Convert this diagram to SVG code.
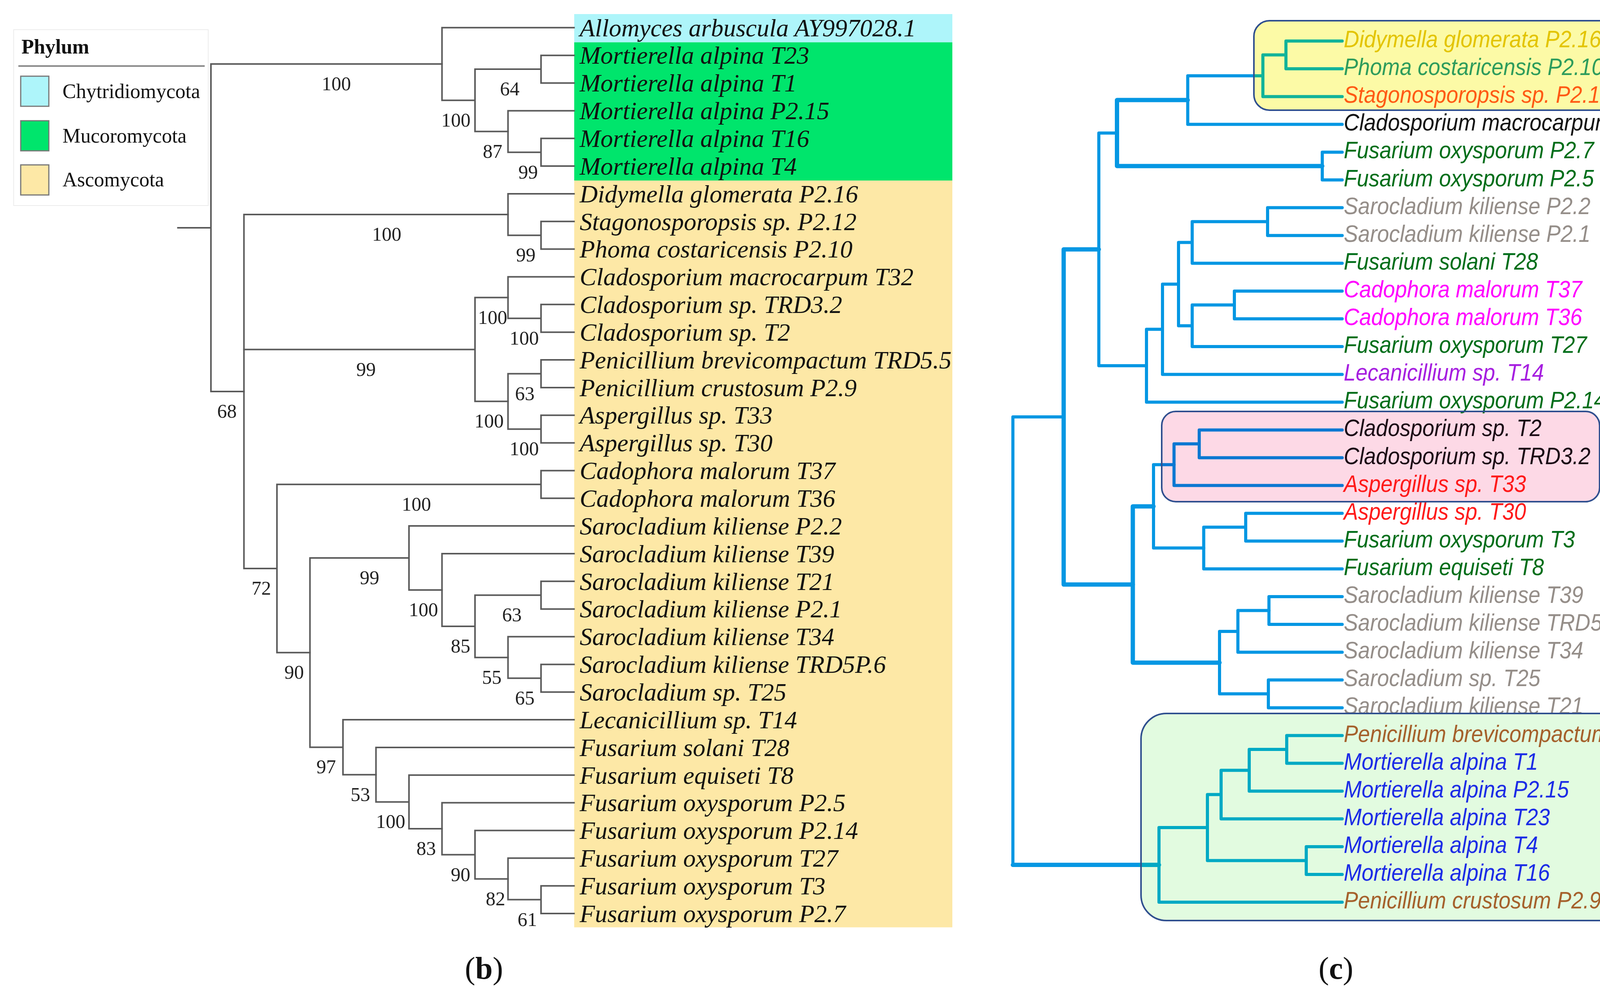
<svg xmlns="http://www.w3.org/2000/svg" width="4382" height="2544" viewBox="0 0 4382 2544">
<style>
.bl{fill:none;stroke:#5a5a5a;stroke-width:4;stroke-linecap:square}
.bt{font-family:"Liberation Serif",serif;font-style:italic;font-size:64px;fill:#111}
.bs{font-family:"Liberation Serif",serif;font-size:50px;fill:#222;text-anchor:middle}
.lg{font-family:"Liberation Serif",serif;font-size:52px;fill:#111}
.sw{stroke:#777;stroke-width:3}
.cl{fill:none;stroke:#0597e3;stroke-width:8;stroke-linecap:round;stroke-linejoin:round}
.ck{stroke-width:11}
.cy{fill:none;stroke:#12b39a;stroke-width:8;stroke-linecap:round;stroke-linejoin:round}
.cp{fill:none;stroke:#0b78d2;stroke-width:8;stroke-linecap:round;stroke-linejoin:round}
.cg{fill:none;stroke:#00a9c4;stroke-width:8;stroke-linecap:round;stroke-linejoin:round}
.ct{font-family:"Liberation Sans",Arial,sans-serif;font-style:italic;font-size:61px}
.box{stroke:#2f4f8f;stroke-width:4}
.cap{font-family:"Liberation Serif",serif;font-size:80px;fill:#111;text-anchor:middle}
</style>
<rect width="4382" height="2544" fill="#ffffff"/>

<!-- Panel (b) legend -->
<g id="legend">
<rect x="35" y="76" width="498" height="450" fill="#ffffff" stroke="#ececec" stroke-width="2"/>
<text x="55" y="137" class="lg" font-weight="bold" font-size="50">Phylum</text>
<line x1="47" y1="169" x2="524" y2="169" stroke="#888" stroke-width="4"/>
<rect x="53" y="195" width="72" height="77" fill="#aef5fa" class="sw"/>
<text x="160" y="251" class="lg">Chytridiomycota</text>
<rect x="53" y="309" width="72" height="77" fill="#00e56c" class="sw"/>
<text x="160" y="365" class="lg">Mucoromycota</text>
<rect x="53" y="422" width="72" height="77" fill="#fde8a6" class="sw"/>
<text x="160" y="477" class="lg">Ascomycota</text>
</g>

<!-- Panel (b) bands -->
<g id="b-bands">
<rect x="1470" y="36" width="968" height="72.3" fill="#aef5fa"/>
<rect x="1470" y="108.3" width="968" height="353.7" fill="#00e56c"/>
<rect x="1470" y="462" width="968" height="1911.4" fill="#fde8a6"/>
</g>

<!-- Panel (b) connectors -->
<g id="b-connectors" class="bl">
<path d="M1469.5 141.7 H1385 V212.5 H1469.5"/>
<path d="M1469.5 354.2 H1385 V425.1 H1469.5"/>
<path d="M1469.5 283.4 H1300.5 V389.65 H1385"/>
<path d="M1385 177.1 H1216 V336.5 H1300.5"/>
<path d="M1469.5 70.8 H1131.5 V256.8 H1216"/>
<path d="M1469.5 566.8 H1385 V637.6 H1469.5"/>
<path d="M1469.5 495.9 H1300.5 V602.2 H1385"/>
<path d="M1469.5 779.3 H1385 V850.2 H1469.5"/>
<path d="M1469.5 708.5 H1300.5 V814.75 H1385"/>
<path d="M1469.5 921 H1385 V991.9 H1469.5"/>
<path d="M1469.5 1062.7 H1385 V1133.6 H1469.5"/>
<path d="M1385 956.45 H1300.5 V1098.15 H1385"/>
<path d="M1300.5 761.6 H1216 V1027.3 H1300.5"/>
<path d="M1469.5 1204.4 H1385 V1275.3 H1469.5"/>
<path d="M1469.5 1487.8 H1385 V1558.7 H1469.5"/>
<path d="M1469.5 1700.4 H1385 V1771.2 H1469.5"/>
<path d="M1469.5 1629.5 H1300.5 V1735.8 H1385"/>
<path d="M1385 1523.25 H1216 V1682.65 H1300.5"/>
<path d="M1469.5 1417 H1131.5 V1602.95 H1216"/>
<path d="M1469.5 1346.1 H1047 V1510 H1131.5"/>
<path d="M1469.5 2267.2 H1385 V2338 H1469.5"/>
<path d="M1469.5 2196.3 H1300.5 V2302.6 H1385"/>
<path d="M1469.5 2125.5 H1216 V2249.45 H1300.5"/>
<path d="M1469.5 2054.6 H1131.5 V2187.5 H1216"/>
<path d="M1469.5 1983.8 H1047 V2121.05 H1131.5"/>
<path d="M1469.5 1912.9 H962.5 V2052.4 H1047"/>
<path d="M1469.5 1842.1 H878 V1982.65 H962.5"/>
<path d="M1047 1428 H793.5 V1912.4 H878"/>
<path d="M1385 1239.85 H709 V1670.2 H793.5"/>
<path d="M1300.5 549.05 H624.5 V1455 H709"/>
<path d="M624.5 894.45 H1216"/>
<path d="M1131.5 163.8 H540 V1002 H624.5"/>
<path d="M455.5 583 H540"/>
</g>

<!-- Panel (b) support values -->
<g id="b-support" class="bs">
<text x="861" y="230.8">100</text>
<text x="1305" y="244.1">64</text>
<text x="1167" y="323.8">100</text>
<text x="1261" y="403.5">87</text>
<text x="1352" y="456.7">99</text>
<text x="990" y="616">100</text>
<text x="1346" y="669.2">99</text>
<text x="1261" y="828.6">100</text>
<text x="1342" y="881.8">100</text>
<text x="937" y="961.5">99</text>
<text x="1343.5" y="1023.5">63</text>
<text x="1252" y="1094.3">100</text>
<text x="1342" y="1165.2">100</text>
<text x="1066" y="1306.9">100</text>
<text x="581" y="1069">68</text>
<text x="946" y="1495">99</text>
<text x="669" y="1522">72</text>
<text x="1084" y="1577">100</text>
<text x="1310.5" y="1590.3">63</text>
<text x="1179" y="1670">85</text>
<text x="1259" y="1749.7">55</text>
<text x="1343.5" y="1802.8">65</text>
<text x="753" y="1737.2">90</text>
<text x="835" y="1979.4">97</text>
<text x="922.6" y="2049.7">53</text>
<text x="1000" y="2119.4">100</text>
<text x="1091" y="2188">83</text>
<text x="1179" y="2254.5">90</text>
<text x="1268.5" y="2316.5">82</text>
<text x="1350" y="2369.6">61</text>
</g>

<!-- Panel (b) leaves -->
<g class="bt">
<g id="b-leaf-0"><text x="1484" y="92.5">Allomyces arbuscula AY997028.1</text></g>
<g id="b-leaf-1"><text x="1484" y="163.4">Mortierella alpina T23</text></g>
<g id="b-leaf-2"><text x="1484" y="234.2">Mortierella alpina T1</text></g>
<g id="b-leaf-3"><text x="1484" y="305.1">Mortierella alpina P2.15</text></g>
<g id="b-leaf-4"><text x="1484" y="375.9">Mortierella alpina T16</text></g>
<g id="b-leaf-5"><text x="1484" y="446.8">Mortierella alpina T4</text></g>
<g id="b-leaf-6"><text x="1484" y="517.6">Didymella glomerata P2.16</text></g>
<g id="b-leaf-7"><text x="1484" y="588.5">Stagonosporopsis sp. P2.12</text></g>
<g id="b-leaf-8"><text x="1484" y="659.3">Phoma costaricensis P2.10</text></g>
<g id="b-leaf-9"><text x="1484" y="730.2">Cladosporium macrocarpum T32</text></g>
<g id="b-leaf-10"><text x="1484" y="801">Cladosporium sp. TRD3.2</text></g>
<g id="b-leaf-11"><text x="1484" y="871.9">Cladosporium sp. T2</text></g>
<g id="b-leaf-12"><text x="1484" y="942.7">Penicillium brevicompactum TRD5.5</text></g>
<g id="b-leaf-13"><text x="1484" y="1013.6">Penicillium crustosum P2.9</text></g>
<g id="b-leaf-14"><text x="1484" y="1084.4">Aspergillus sp. T33</text></g>
<g id="b-leaf-15"><text x="1484" y="1155.3">Aspergillus sp. T30</text></g>
<g id="b-leaf-16"><text x="1484" y="1226.1">Cadophora malorum T37</text></g>
<g id="b-leaf-17"><text x="1484" y="1297">Cadophora malorum T36</text></g>
<g id="b-leaf-18"><text x="1484" y="1367.8">Sarocladium kiliense P2.2</text></g>
<g id="b-leaf-19"><text x="1484" y="1438.7">Sarocladium kiliense T39</text></g>
<g id="b-leaf-20"><text x="1484" y="1509.5">Sarocladium kiliense T21</text></g>
<g id="b-leaf-21"><text x="1484" y="1580.4">Sarocladium kiliense P2.1</text></g>
<g id="b-leaf-22"><text x="1484" y="1651.2">Sarocladium kiliense T34</text></g>
<g id="b-leaf-23"><text x="1484" y="1722.1">Sarocladium kiliense TRD5P.6</text></g>
<g id="b-leaf-24"><text x="1484" y="1792.9">Sarocladium sp. T25</text></g>
<g id="b-leaf-25"><text x="1484" y="1863.8">Lecanicillium sp. T14</text></g>
<g id="b-leaf-26"><text x="1484" y="1934.6">Fusarium solani T28</text></g>
<g id="b-leaf-27"><text x="1484" y="2005.5">Fusarium equiseti T8</text></g>
<g id="b-leaf-28"><text x="1484" y="2076.3">Fusarium oxysporum P2.5</text></g>
<g id="b-leaf-29"><text x="1484" y="2147.2">Fusarium oxysporum P2.14</text></g>
<g id="b-leaf-30"><text x="1484" y="2218">Fusarium oxysporum T27</text></g>
<g id="b-leaf-31"><text x="1484" y="2288.9">Fusarium oxysporum T3</text></g>
<g id="b-leaf-32"><text x="1484" y="2359.7">Fusarium oxysporum P2.7</text></g>
</g>

<text id="caption-b" class="cap" x="1239" y="2505">(<tspan font-weight="bold">b</tspan>)</text>

<!-- Panel (c) clade boxes (fills) -->
<g id="c-box-fills">
<rect x="3210" y="53" width="949" height="229" rx="40" fill="#fcfaa6"/>
<rect x="2974" y="1053" width="1121" height="231" rx="36" fill="#fdd9e6"/>
<rect x="2921" y="1826" width="1412" height="530" rx="65" fill="#e2fbe0"/>
</g>

<!-- Panel (c) connectors -->
<g id="c-connectors">
<g class="cl">
<path d="M3212 193.9 H3040.6 V318.3 H3436"/>
<path class="ck" d="M3040.6 256.1 H2859.5 V424.95 H3385"/>
<path d="M3436 389.4 H3385 V460.5 H3436"/>
<path d="M3436 531.6 H3245 V602.7 H3436"/>
<path d="M3245 567.15 H3052 V673.8 H3436"/>
<path d="M3436 744.9 H3160 V816 H3436"/>
<path d="M3160 780.45 H3052 V887.1 H3436"/>
<path d="M3052 620.5 H3017 V833.8 H3052"/>
<path d="M3017 727.15 H2976 V958.2 H3436"/>
<path d="M2976 842.7 H2935 V1029.3 H3436"/>
<path d="M2859.5 340.5 H2813 V936 H2935"/>
<path d="M2974 1189.3 H2953 V1402.6 H3081.5"/>
<path d="M3436 1313.7 H3189 V1384.8 H3436"/>
<path d="M3189 1349.25 H3081.5 V1455.9 H3436"/>
<path d="M3436 1527 H3248.5 V1598.1 H3436"/>
<path d="M3248.5 1562.55 H3169 V1669.2 H3436"/>
<path d="M3436 1740.3 H3247 V1811.4 H3436"/>
<path d="M3169 1615.9 H3122 V1775.85 H3247"/>
<path class="ck" d="M2953 1296 H2900 V1695.9 H3122"/>
<path class="ck" d="M2813 638.25 H2723 V1496 H2900"/>
<path d="M2723 1067.1 H2593 V2213.55"/>
<path class="ck" d="M2593 2213.55 H2921"/>
</g>
<g class="cy">
<path d="M3436 105 H3292 V176.1 H3436"/>
<path d="M3292 140.55 H3233 V247.2 H3436"/>
<path d="M3233 193.9 H3212"/>
</g>
<g class="cp">
<path d="M3436 1100.4 H3070 V1171.5 H3436"/>
<path d="M3070 1135.95 H3005.5 V1242.6 H3436"/>
<path d="M3005.5 1189.3 H2974"/>
</g>
<g class="cg">
<path d="M3436 1882.5 H3294 V1953.6 H3436"/>
<path d="M3294 1918.05 H3198 V2024.7 H3436"/>
<path d="M3198 1971.4 H3126 V2095.8 H3436"/>
<path d="M3436 2166.9 H3344 V2238 H3436"/>
<path d="M3126 2033.6 H3091 V2202.45 H3344"/>
<path d="M3091 2118 H2967 V2309.1 H3436"/>
<path class="ck" d="M2967 2213.55 H2921"/>
</g>
</g>

<!-- Panel (c) leaves -->
<g class="ct">
<g id="c-leaf-0"><text transform="translate(3440 121) scale(0.9 1)" fill="#e3c400">Didymella glomerata P2.16</text></g>
<g id="c-leaf-1"><text transform="translate(3440 192.1) scale(0.9 1)" fill="#2e9c5c">Phoma costaricensis P2.10</text></g>
<g id="c-leaf-2"><text transform="translate(3440 263.2) scale(0.9 1)" fill="#ff5a14">Stagonosporopsis sp. P2.12</text></g>
<g id="c-leaf-3"><text transform="translate(3440 334.3) scale(0.9 1)" fill="#111111">Cladosporium macrocarpum T32</text></g>
<g id="c-leaf-4"><text transform="translate(3440 405.4) scale(0.9 1)" fill="#006e1a">Fusarium oxysporum P2.7</text></g>
<g id="c-leaf-5"><text transform="translate(3440 476.5) scale(0.9 1)" fill="#006e1a">Fusarium oxysporum P2.5</text></g>
<g id="c-leaf-6"><text transform="translate(3440 547.6) scale(0.9 1)" fill="#958e89">Sarocladium kiliense P2.2</text></g>
<g id="c-leaf-7"><text transform="translate(3440 618.7) scale(0.9 1)" fill="#958e89">Sarocladium kiliense P2.1</text></g>
<g id="c-leaf-8"><text transform="translate(3440 689.8) scale(0.9 1)" fill="#006e1a">Fusarium solani T28</text></g>
<g id="c-leaf-9"><text transform="translate(3440 760.9) scale(0.9 1)" fill="#ff00ff">Cadophora malorum T37</text></g>
<g id="c-leaf-10"><text transform="translate(3440 832) scale(0.9 1)" fill="#ff00ff">Cadophora malorum T36</text></g>
<g id="c-leaf-11"><text transform="translate(3440 903.1) scale(0.9 1)" fill="#006e1a">Fusarium oxysporum T27</text></g>
<g id="c-leaf-12"><text transform="translate(3440 974.2) scale(0.9 1)" fill="#a61fe0">Lecanicillium sp. T14</text></g>
<g id="c-leaf-13"><text transform="translate(3440 1045.3) scale(0.9 1)" fill="#006e1a">Fusarium oxysporum P2.14</text></g>
<g id="c-leaf-14"><text transform="translate(3440 1116.4) scale(0.9 1)" fill="#1a0a14">Cladosporium sp. T2</text></g>
<g id="c-leaf-15"><text transform="translate(3440 1187.5) scale(0.9 1)" fill="#1a0a14">Cladosporium sp. TRD3.2</text></g>
<g id="c-leaf-16"><text transform="translate(3440 1258.6) scale(0.9 1)" fill="#ff1a1a">Aspergillus sp. T33</text></g>
<g id="c-leaf-17"><text transform="translate(3440 1329.7) scale(0.9 1)" fill="#ff1a1a">Aspergillus sp. T30</text></g>
<g id="c-leaf-18"><text transform="translate(3440 1400.8) scale(0.9 1)" fill="#006e1a">Fusarium oxysporum T3</text></g>
<g id="c-leaf-19"><text transform="translate(3440 1471.9) scale(0.9 1)" fill="#006e1a">Fusarium equiseti T8</text></g>
<g id="c-leaf-20"><text transform="translate(3440 1543) scale(0.9 1)" fill="#958e89">Sarocladium kiliense T39</text></g>
<g id="c-leaf-21"><text transform="translate(3440 1614.1) scale(0.9 1)" fill="#958e89">Sarocladium kiliense TRD5P.6</text></g>
<g id="c-leaf-22"><text transform="translate(3440 1685.2) scale(0.9 1)" fill="#958e89">Sarocladium kiliense T34</text></g>
<g id="c-leaf-23"><text transform="translate(3440 1756.3) scale(0.9 1)" fill="#958e89">Sarocladium sp. T25</text></g>
<g id="c-leaf-24"><text transform="translate(3440 1827.4) scale(0.9 1)" fill="#958e89">Sarocladium kiliense T21</text></g>
<g id="c-leaf-25"><text transform="translate(3440 1898.5) scale(0.9 1)" fill="#a5612c">Penicillium brevicompactum TRD5.5</text></g>
<g id="c-leaf-26"><text transform="translate(3440 1969.6) scale(0.9 1)" fill="#1c2ce6">Mortierella alpina T1</text></g>
<g id="c-leaf-27"><text transform="translate(3440 2040.7) scale(0.9 1)" fill="#1c2ce6">Mortierella alpina P2.15</text></g>
<g id="c-leaf-28"><text transform="translate(3440 2111.8) scale(0.9 1)" fill="#1c2ce6">Mortierella alpina T23</text></g>
<g id="c-leaf-29"><text transform="translate(3440 2182.9) scale(0.9 1)" fill="#1c2ce6">Mortierella alpina T4</text></g>
<g id="c-leaf-30"><text transform="translate(3440 2254) scale(0.9 1)" fill="#1c2ce6">Mortierella alpina T16</text></g>
<g id="c-leaf-31"><text transform="translate(3440 2325.1) scale(0.9 1)" fill="#a5612c">Penicillium crustosum P2.9</text></g>
</g>

<!-- Panel (c) clade box outlines -->
<g id="c-box-outlines" fill="none" class="box">
<rect x="3210" y="53" width="949" height="229" rx="40"/>
<rect x="2974" y="1053" width="1121" height="231" rx="36"/>
<rect x="2921" y="1826" width="1412" height="530" rx="65"/>
</g>

<text id="caption-c" class="cap" x="3420" y="2505">(<tspan font-weight="bold">c</tspan>)</text>
</svg>
